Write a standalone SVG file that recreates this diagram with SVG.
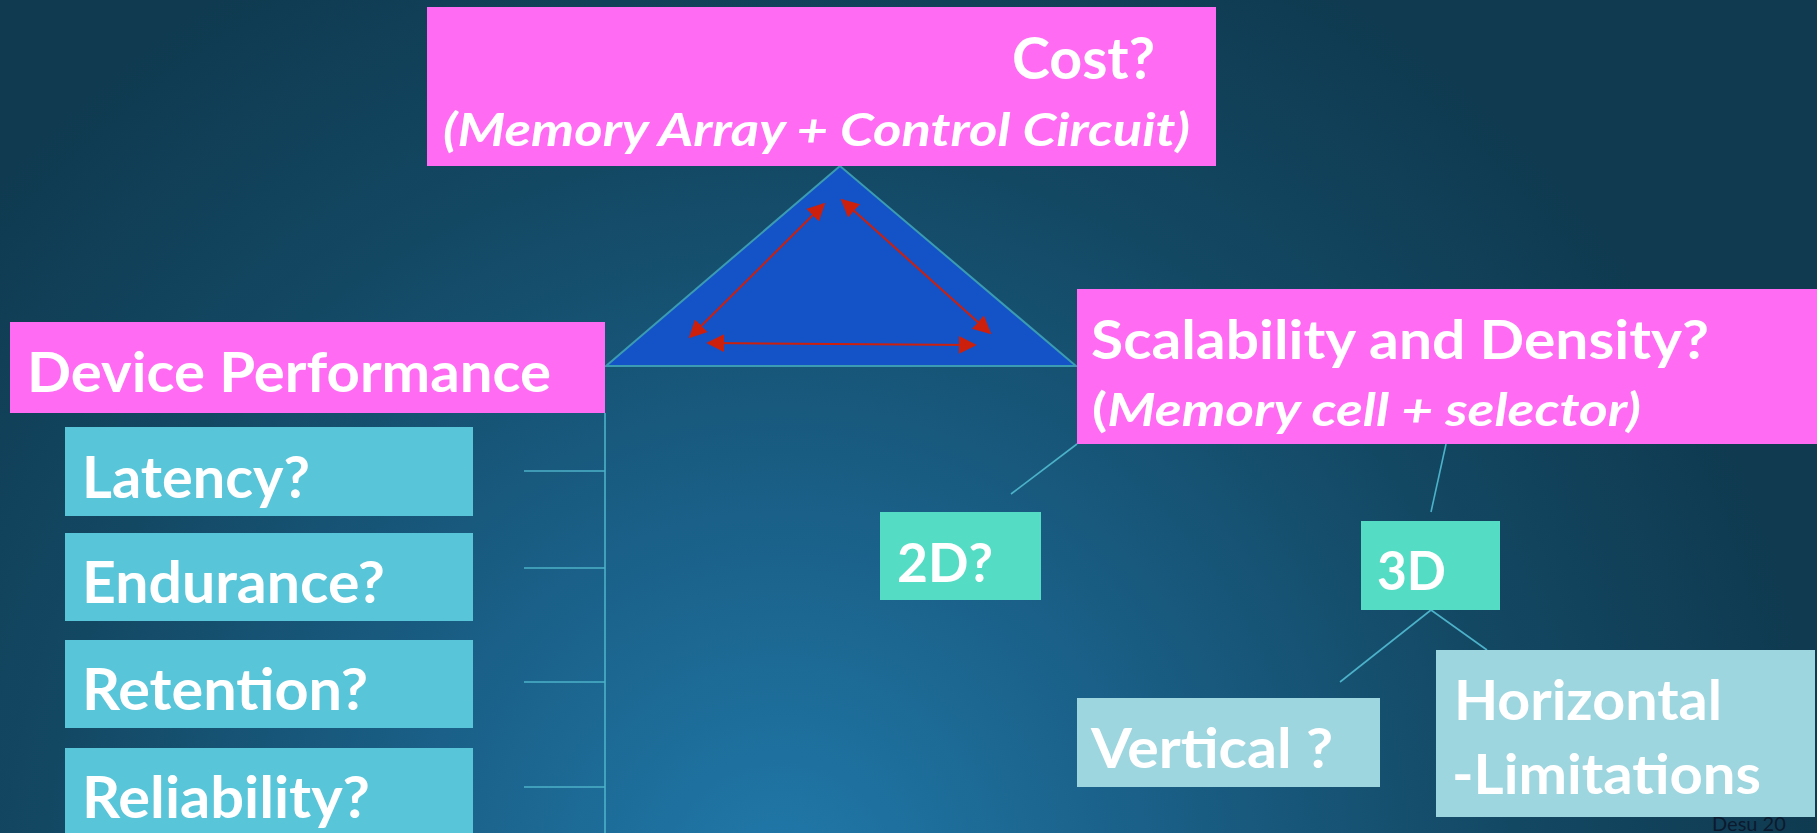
<svg xmlns="http://www.w3.org/2000/svg" width="1817" height="833" viewBox="0 0 1817 833">
  <defs>
    <radialGradient id="bg" gradientUnits="userSpaceOnUse" cx="780" cy="880" r="1050">
      <stop offset="0" stop-color="#2079aa"/>
      <stop offset="0.35" stop-color="#1a6088"/>
      <stop offset="0.7" stop-color="#134863"/>
      <stop offset="1" stop-color="#0f3a50"/>
    </radialGradient>
    <marker id="arrow" viewBox="0 0 10 10" refX="9" refY="5" markerWidth="18" markerHeight="20" markerUnits="userSpaceOnUse" orient="auto-start-reverse">
      <path d="M0,0 L10,5 L0,10 Z" fill="#cc200c"/>
    </marker>
    <style>
      .lbl { font-family: Lato, "Liberation Sans", sans-serif; font-weight: bold; fill: #ffffff; }
      .it { font-style: italic; }
      .pink { fill: #ff6cf3; }
      .cyan { fill: #58c5d9; }
      .mint { fill: #55dcc4; }
      .pale { fill: #9ed6e0; }
      .link { stroke: #4cb2c9; stroke-width: 1.6; fill: none; }
      .tradeoff { stroke: #cc200c; stroke-width: 2; fill: none; marker-start: url(#arrow); marker-end: url(#arrow); }
    </style>
  </defs>

  <rect x="0" y="0" width="1817" height="833" fill="url(#bg)"/>

  <!-- triangle of trade-offs -->
  <g id="triangle">
    <polygon points="840,166 606,366 1076,366" fill="#1452c8" stroke="#3a9bb2" stroke-width="2"/>
  </g>

  <g id="connectors">
    <line class="tradeoff" x1="690" y1="337" x2="824" y2="204"/>
    <line class="tradeoff" x1="842" y1="200" x2="990" y2="333"/>
    <line class="tradeoff" x1="708" y1="343" x2="975" y2="345"/>
    <!-- device performance spine -->
    <line class="link" x1="605" y1="413" x2="605" y2="833"/>
    <line class="link" x1="524" y1="471" x2="605" y2="471"/>
    <line class="link" x1="524" y1="568" x2="605" y2="568"/>
    <line class="link" x1="524" y1="682" x2="605" y2="682"/>
    <line class="link" x1="524" y1="787" x2="605" y2="787"/>
    <!-- scalability tree -->
    <line class="link" x1="1077" y1="444" x2="1011" y2="494"/>
    <line class="link" x1="1446" y1="444" x2="1431" y2="512"/>
    <line class="link" x1="1431" y1="610" x2="1340" y2="682"/>
    <line class="link" x1="1431" y1="610" x2="1487" y2="650"/>
  </g>

  <g id="cost">
    <rect class="pink" x="427" y="7" width="789" height="159"/>
    <text class="lbl" x="1012" y="79" font-size="57" textLength="143" lengthAdjust="spacingAndGlyphs">Cost?</text>
    <text class="lbl it" x="443" y="146" font-size="46" textLength="747" lengthAdjust="spacingAndGlyphs">(Memory Array + Control Circuit)</text>
  </g>

  <g id="device-performance">
    <rect class="pink" x="10" y="322" width="595" height="91"/>
    <text class="lbl" x="27" y="392" font-size="56" textLength="524" lengthAdjust="spacingAndGlyphs">Device Performance</text>
  </g>

  <g id="latency">
    <rect class="cyan" x="65" y="427" width="408" height="89"/>
    <text class="lbl" x="82" y="498" font-size="57" textLength="228" lengthAdjust="spacingAndGlyphs">Latency?</text>
  </g>
  <g id="endurance">
    <rect class="cyan" x="65" y="533" width="408" height="88"/>
    <text class="lbl" x="82" y="603" font-size="57" textLength="303" lengthAdjust="spacingAndGlyphs">Endurance?</text>
  </g>
  <g id="retention">
    <rect class="cyan" x="65" y="640" width="408" height="88"/>
    <text class="lbl" x="82" y="710" font-size="57" textLength="286" lengthAdjust="spacingAndGlyphs">Retention?</text>
  </g>
  <g id="reliability">
    <rect class="cyan" x="65" y="748" width="408" height="95"/>
    <text class="lbl" x="82" y="818" font-size="57" textLength="288" lengthAdjust="spacingAndGlyphs">Reliability?</text>
  </g>

  <g id="scalability">
    <rect class="pink" x="1077" y="289" width="745" height="155"/>
    <text class="lbl" x="1091" y="359" font-size="53" textLength="618" lengthAdjust="spacingAndGlyphs">Scalability and Density?</text>
    <text class="lbl" x="1092" y="426" font-size="46" textLength="549" lengthAdjust="spacingAndGlyphs">(<tspan class="it">Memory cell + selector)</tspan></text>
  </g>

  <g id="two-d">
    <rect class="mint" x="880" y="512" width="161" height="88"/>
    <text class="lbl" x="897" y="582" font-size="54" textLength="96" lengthAdjust="spacingAndGlyphs">2D?</text>
  </g>

  <g id="three-d">
    <rect class="mint" x="1361" y="521" width="139" height="89"/>
    <text class="lbl" x="1377" y="590" font-size="54" textLength="69" lengthAdjust="spacingAndGlyphs">3D</text>
  </g>

  <g id="vertical">
    <rect class="pale" x="1077" y="698" width="303" height="89"/>
    <text class="lbl" x="1091" y="768" font-size="56" textLength="242" lengthAdjust="spacingAndGlyphs">Vertical ?</text>
  </g>

  <g id="horizontal">
    <rect class="pale" x="1436" y="650" width="379" height="167"/>
    <text class="lbl" x="1454" y="720" font-size="56" textLength="268" lengthAdjust="spacingAndGlyphs">Horizontal</text>
    <text class="lbl" x="1452" y="794" font-size="56" textLength="309" lengthAdjust="spacingAndGlyphs">-Limitations</text>
  </g>

  <!-- source note, bottom right -->
  <text x="1712" y="831" font-family="Lato, 'Liberation Sans', sans-serif" font-size="20" fill="#0b1a2e">Desu 20</text>
</svg>
